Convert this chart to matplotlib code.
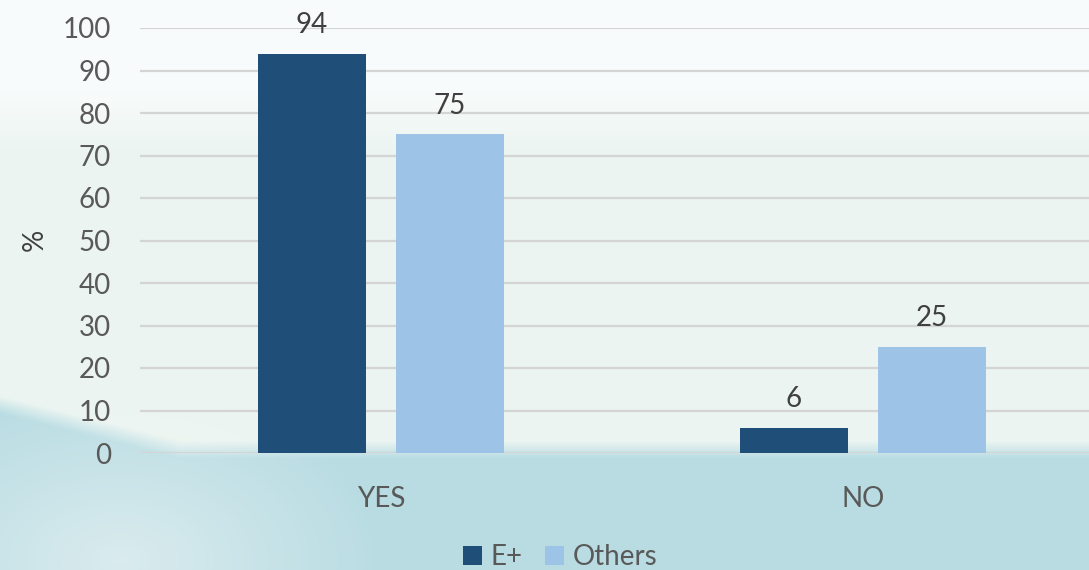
import numpy as np
import matplotlib.pyplot as plt

categories = ['YES', 'NO']
series_names = ['E+', 'Others']
e_plus = [94, 6]
others = [75, 25]
colors = ['#1f4e79', '#9dc3e6']

plt.rcParams['font.family'] = ['Lato', 'DejaVu Sans']

fig = plt.figure(figsize=(10.89, 5.7), dpi=100)

# background: pale top, mint middle, teal band at the bottom
bg = fig.add_axes([0, 0, 1, 1], zorder=0)
h, w = 570, 1089
yy, xx = np.indices((h, w))
top = np.array([0.975, 0.985, 0.985])
mid = np.array([0.925, 0.960, 0.945])
teal = np.array([0.725, 0.865, 0.890])
img = np.ones((h, w, 3)) * top
t = np.clip((yy - 90) / 60.0, 0, 1)[..., None]
img = img * (1 - t) + mid * t
edge = 440 + 0.0 * xx - np.clip(180 - xx, 0, None) * 0.25
tb = np.clip((yy - edge) / 18.0, 0, 1)[..., None]
img = img * (1 - tb) + teal * tb
# faint whitish wash on lower left
wash = np.clip(1 - np.hypot((xx - 120) / 260.0, (yy - 560) / 170.0), 0, 1)[..., None] * 0.55
img = img * (1 - wash) + np.array([0.96, 0.97, 0.97]) * wash
bg.imshow(img, extent=(0, w, h, 0), aspect='auto')
bg.axis('off')

ax = fig.add_axes([140 / w, 1 - 453 / h, (w - 140) / w, 425 / h], zorder=1)
ax.patch.set_alpha(0)

x = np.arange(len(categories))
bw = 0.224
off = 0.143
b1 = ax.bar(x - off, e_plus, bw, color=colors[0], label=series_names[0], zorder=3)
b2 = ax.bar(x + off, others, bw, color=colors[1], label=series_names[1], zorder=3)
for bars in (b1, b2):
    ax.bar_label(bars, padding=11, fontsize=20, color='#404040')

ax.set_xlim(-0.5, 1.469)
ax.set_ylim(0, 100)
ax.set_yticks(range(0, 101, 10))
ax.yaxis.grid(True, color='#d4d4d4', linewidth=1.6, zorder=0)
ax.set_axisbelow(True)
for s in ax.spines.values():
    s.set_visible(False)
ax.tick_params(axis='both', length=0, labelsize=20, colors='#595959')
ax.tick_params(axis='y', pad=21)
ax.tick_params(axis='x', pad=24)
ax.set_xticks(x)
ax.set_xticklabels(categories)
fig.text(35 / w, 1 - 240 / h, '%', rotation=90, fontsize=20, color='#404040',
         ha='center', va='center')

ax.legend(loc='center', bbox_to_anchor=((560 - 140) / (w - 140), -104 / 425.0),
          ncol=2, frameon=False, fontsize=20, labelcolor='#595959',
          handlelength=0.7, handleheight=0.7, handletextpad=0.3, columnspacing=0.8)

fig.savefig('out.png', dpi=100)
